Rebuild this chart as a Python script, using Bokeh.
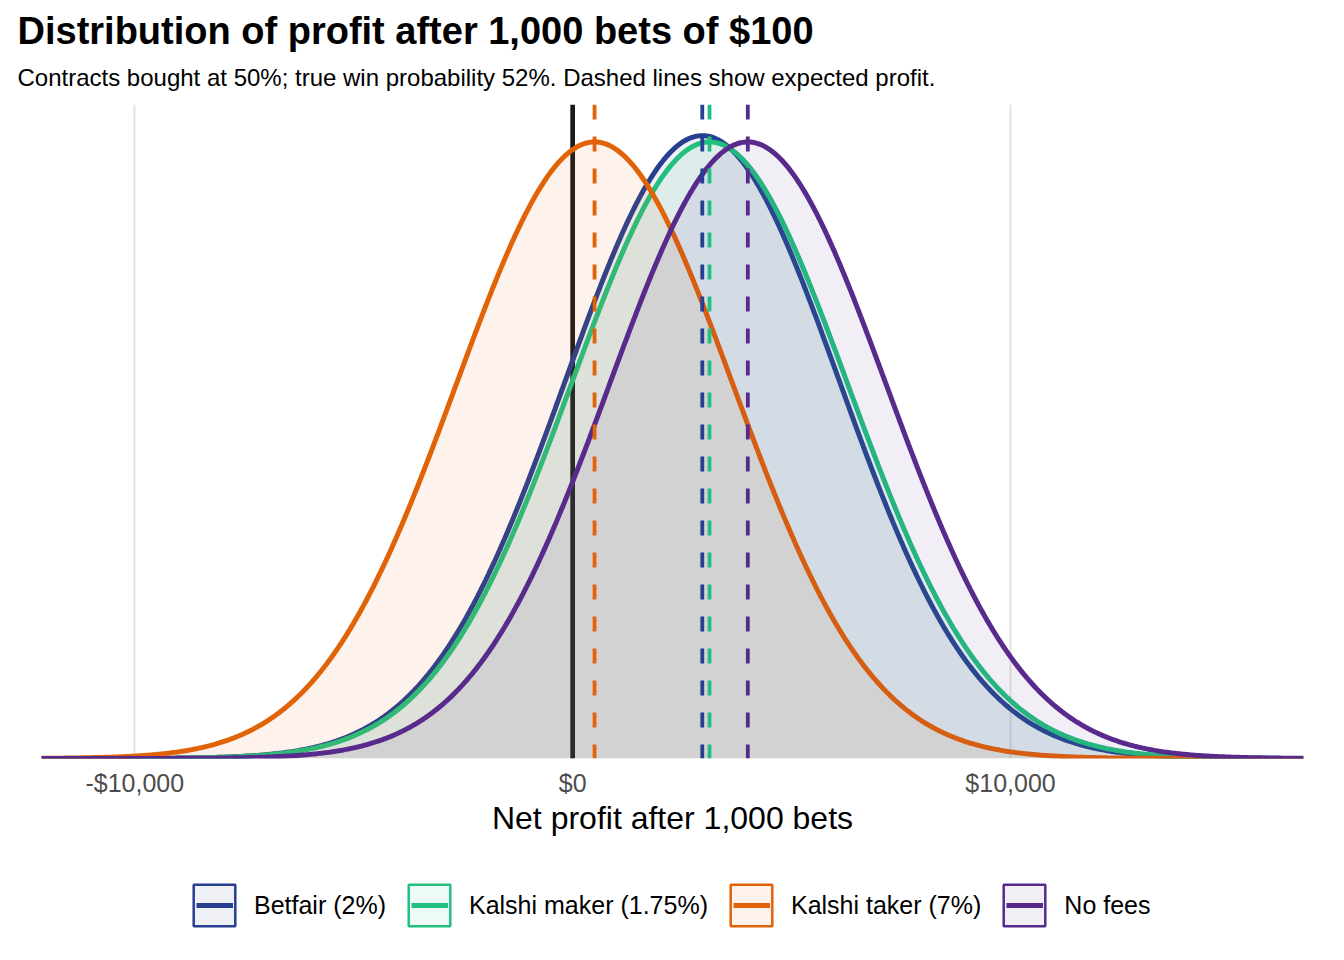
import numpy as np
from bokeh.plotting import figure
from bokeh.layouts import column
from bokeh.models import (Span, Legend, LegendItem, FixedTicker, CustomJSTickFormatter,
                          Title, Range1d)
from bokeh.embed import file_html
from bokeh.resources import INLINE

# expected profit and spread of profit after 1,000 bets of $100
names = ["Betfair (2%)", "Kalshi maker (1.75%)", "Kalshi taker (7%)", "No fees"]
means = [2960, 3125, 500, 4000]
sds = [3128, 3160, 3160, 3160]
colors = ["#263f91", "#22c07f", "#e06308", "#572a8b"]
ticks = [-10000, 0, 10000]

FONT = "Liberation Sans"

xs = np.linspace(-12130, 16690, 800)
curves = []
for m, s in zip(means, sds):
    curves.append(np.exp(-0.5 * ((xs - m) / s) ** 2) / (s * np.sqrt(2 * np.pi)))
ymax = max(c.max() for c in curves)

p = figure(width=1344, height=852, output_backend="svg", toolbar_location=None,
           x_range=Range1d(xs[0], xs[-1]), y_range=Range1d(0, ymax * 1.05),
           min_border_left=41, min_border_right=41, min_border_top=104, min_border_bottom=94)
p.outline_line_color = None
p.background_fill_color = "white"

# zero line sits under the densities
p.add_layout(Span(location=0, dimension="height", line_color="#1a1a1a", line_width=4.7,
                  level="underlay"))

for col, ys in zip(colors, curves):
    p.varea(x=xs, y1=0, y2=ys, fill_color=col, fill_alpha=0.08)
    p.line(xs, ys, line_color=col, line_width=5)

for m, col in zip(means, colors):
    p.add_layout(Span(location=m, dimension="height", line_color=col, line_width=3.8,
                      line_dash="15 17"))

p.yaxis.visible = False
p.ygrid.visible = False
xa = p.xaxis[0]
xa.ticker = FixedTicker(ticks=ticks)
xa.formatter = CustomJSTickFormatter(code="""
    return (tick < 0 ? '-' : '') + '$' + Math.abs(tick).toLocaleString('en-US');
""")
xa.axis_line_color = None
xa.major_tick_line_color = None
xa.minor_tick_line_color = None
xa.major_label_text_font = FONT
xa.major_label_text_font_size = "25px"
xa.major_label_text_color = "#4d4d4d"
xa.major_label_standoff = 4
xa.axis_label = "Net profit after 1,000 bets"
xa.axis_label_text_font = FONT
xa.axis_label_text_font_size = "32px"
xa.axis_label_text_font_style = "normal"
xa.axis_label_text_color = "black"
xa.axis_label_standoff = 0
p.xgrid.grid_line_color = "#e3e3e3"
p.xgrid.grid_line_width = 2

p.add_layout(Title(text="Contracts bought at 50%; true win probability 52%. Dashed lines show expected profit.",
                   text_font=FONT, text_font_size="24px", text_font_style="normal",
                   text_color="black", offset=-24, standoff=27), "above")
p.add_layout(Title(text="Distribution of profit after 1,000 bets of $100",
                   text_font=FONT, text_font_size="38px", text_font_style="bold",
                   text_color="black", offset=-24, standoff=-6), "above")

# legend strip under the chart: one legend draws the boxes and labels,
# small label-less legends put the shorter strokes inside the boxes
lg = figure(width=1344, height=108, output_backend="svg", toolbar_location=None,
            x_range=Range1d(0, 1), y_range=Range1d(0, 1),
            x_axis_location=None, y_axis_location=None, min_border=0)
lg.outline_line_color = None
lg.grid.visible = False

style = dict(orientation="horizontal", glyph_height=52,
             label_text_font=FONT, label_text_font_size="25px",
             border_line_color=None, background_fill_alpha=0, padding=0, margin=0)

stroke_x = [155, 370, 692, 965]  # where each stroke sits inside its box
box_items = []
for name, col, sx in zip(names, colors, stroke_x):
    # key glyphs kept outside the strip's visible range
    box = lg.quad(left=[-2], right=[-1], top=[-1], bottom=[-2], fill_color=col,
                  fill_alpha=0.08, line_color=col, line_width=2.5)
    stroke = lg.line(x=[-2, -1], y=[-2, -2], line_color=col, line_width=5)
    box_items.append(LegendItem(label=name, renderers=[box]))
    lg.add_layout(Legend(items=[LegendItem(label=" ", renderers=[stroke])],
                         location=(sx, 29), glyph_width=37, label_standoff=0,
                         label_text_alpha=0, **style))

lg.add_layout(Legend(items=box_items, location=(147, 29), glyph_width=52, spacing=17,
                     label_standoff=14, label_text_color="black", **style))

open("out.html", "w").write(file_html(column(p, lg), INLINE))
